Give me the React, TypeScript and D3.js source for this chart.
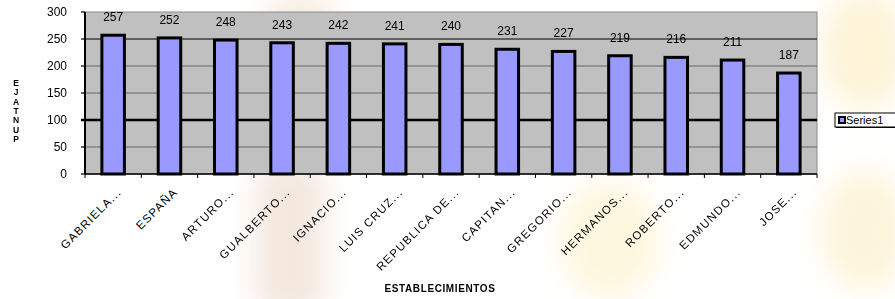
import * as d3 from "d3";
import { useEffect, useRef } from "react";

// nombres cortados como en el original
const categories = [
    "GABRIELA...", "ESPAÑA", "ARTURO...", "GUALBERTO...", "IGNACIO...",
    "LUIS CRUZ...", "REPUBLICA DE...", "CAPITAN...", "GREGORIO...",
    "HERMANOS...", "ROBERTO...", "EDMUNDO...", "JOSE...",
];
const puntajes = [257, 252, 248, 243, 242, 241, 240, 231, 227, 219, 216, 211, 187];
const yTicks = [0, 50, 100, 150, 200, 250, 300];
const seriesName = "Series1";
const xTitle = "ESTABLECIMIENTOS";
const yTitle = "EJATNUP";

const W = 895;
const H = 299;

function drawChart(svgEl: SVGSVGElement) {
    const svg = d3.select(svgEl);
    svg.selectAll("*").remove();

    const area = { left: 85, right: 817, top: 12, bottom: 174 };
    const font = "Arial, 'Liberation Sans', sans-serif";

    // fondo con marca de agua suave
    const defs = svg.append("defs");
    defs.append("filter").attr("id", "blur")
        .append("feGaussianBlur").attr("stdDeviation", 14);
    svg.append("rect").attr("width", W).attr("height", H).attr("fill", "#ffffff");
    const wm = svg.append("g").attr("filter", "url(#blur)");
    wm.append("rect").attr("x", 255).attr("y", 160).attr("width", 70).attr("height", 160)
        .attr("rx", 30).attr("fill", "#f1e2d6").attr("opacity", 0.8);
    wm.append("ellipse").attr("cx", 300).attr("cy", 20).attr("rx", 35).attr("ry", 30)
        .attr("fill", "#f3e2cf").attr("opacity", 0.6);
    wm.append("ellipse").attr("cx", 610).attr("cy", 240).attr("rx", 50).attr("ry", 60)
        .attr("fill", "#fdf3d2").attr("opacity", 0.7);
    wm.append("ellipse").attr("cx", 865).attr("cy", 50).attr("rx", 45).attr("ry", 60)
        .attr("fill", "#fcf0c8").attr("opacity", 0.7);
    wm.append("ellipse").attr("cx", 865).attr("cy", 230).attr("rx", 45).attr("ry", 60)
        .attr("fill", "#fcf1cc").attr("opacity", 0.7);

    const x = d3.scaleBand<string>()
        .domain(categories)
        .range([area.left, area.right])
        .paddingInner(0)
        .paddingOuter(0);

    const y = d3.scaleLinear()
        .domain([0, 300])
        .range([area.bottom, area.top]);

    // area del grafico
    svg.append("rect")
        .attr("x", area.left).attr("y", area.top)
        .attr("width", area.right - area.left).attr("height", area.bottom - area.top)
        .attr("fill", "#c0c0c0")
        .attr("stroke", "#8a8a8a").attr("stroke-width", 1);

    // lineas de division
    yTicks.filter(t => t > 0 && t < 300).forEach(t => {
        const strong = t === 100;
        const dark = t === 250 || t === 100;
        svg.append("line")
            .attr("x1", area.left).attr("x2", area.right)
            .attr("y1", y(t)).attr("y2", y(t))
            .attr("stroke", dark ? "#000" : "#666")
            .attr("stroke-width", strong ? 2.5 : 1);
    });

    // barras
    const barW = x.bandwidth() * 0.4;
    svg.selectAll(".bar")
        .data(puntajes)
        .enter()
        .append("rect")
        .attr("class", "bar")
        .attr("x", (d, i) => x(categories[i])! + (x.bandwidth() - barW) / 2)
        .attr("y", d => y(d))
        .attr("width", barW)
        .attr("height", d => area.bottom - y(d))
        .attr("fill", "#9999ff")
        .attr("stroke", "#000")
        .attr("stroke-width", 3);

    // etiquetas de valor
    svg.selectAll(".val")
        .data(puntajes)
        .enter()
        .append("text")
        .attr("x", (d, i) => x(categories[i])! + x.bandwidth() / 2)
        .attr("y", d => y(d) - 14)
        .attr("text-anchor", "middle")
        .style("font-family", font)
        .style("font-size", "12px")
        .text(d => d);

    // eje Y
    svg.append("line")
        .attr("x1", area.left).attr("x2", area.left)
        .attr("y1", area.top).attr("y2", area.bottom)
        .attr("stroke", "#000").attr("stroke-width", 2);
    yTicks.forEach(t => {
        svg.append("line")
            .attr("x1", area.left - 4).attr("x2", area.left)
            .attr("y1", y(t)).attr("y2", y(t))
            .attr("stroke", "#000").attr("stroke-width", t === 100 ? 2.5 : 1.2);
        svg.append("text")
            .attr("x", area.left - 18).attr("y", y(t) + 4)
            .attr("text-anchor", "end")
            .style("font-family", font)
            .style("font-size", "12px")
            .text(t);
    });

    // eje X
    svg.append("line")
        .attr("x1", area.left).attr("x2", area.right)
        .attr("y1", area.bottom).attr("y2", area.bottom)
        .attr("stroke", "#000").attr("stroke-width", 1.5);
    categories.forEach((c, i) => {
        const bx = x(c)!;
        svg.append("line")
            .attr("x1", bx).attr("x2", bx)
            .attr("y1", area.bottom).attr("y2", area.bottom + 4)
            .attr("stroke", "#000");
        if (i === categories.length - 1) {
            svg.append("line")
                .attr("x1", bx + x.bandwidth()).attr("x2", bx + x.bandwidth())
                .attr("y1", area.bottom).attr("y2", area.bottom + 4)
                .attr("stroke", "#000");
        }
        const cx = bx + x.bandwidth() / 2 + 6;
        const cy = area.bottom + 16;
        svg.append("text")
            .attr("transform", `translate(${cx}, ${cy}) rotate(-45)`)
            .attr("text-anchor", "end")
            .attr("dy", "0.35em")
            .style("font-family", font)
            .style("font-size", "11.5px")
            .style("letter-spacing", "1.2px")
            .text(c);
    });

    // titulos
    svg.append("text")
        .attr("x", 440).attr("y", 292)
        .attr("text-anchor", "middle")
        .style("font-family", font)
        .style("font-size", "10px")
        .style("font-weight", "bold")
        .style("letter-spacing", "0.6px")
        .text(xTitle);

    // letras apiladas del eje Y
    yTitle.split("").forEach((ch, i) => {
        svg.append("text")
            .attr("x", 16)
            .attr("y", 86 + i * 9.3)
            .attr("text-anchor", "middle")
            .style("font-family", font)
            .style("font-size", "8.5px")
            .style("font-weight", "bold")
            .text(ch);
    });

    // leyenda
    const lg = svg.append("g").attr("transform", "translate(835, 113)");
    lg.append("rect").attr("x", 1).attr("y", 1).attr("width", 70).attr("height", 14)
        .attr("fill", "#000");
    lg.append("rect").attr("width", 70).attr("height", 14)
        .attr("fill", "#fff").attr("stroke", "#000");
    lg.append("rect").attr("x", 4).attr("y", 4).attr("width", 6).attr("height", 6)
        .attr("fill", "#9999ff").attr("stroke", "#000").attr("stroke-width", 2);
    lg.append("text").attr("x", 11).attr("y", 11)
        .style("font-family", font)
        .style("font-size", "11px")
        .text(seriesName);
}

export default function App() {
    const svgRef = useRef<SVGSVGElement>(null);

    useEffect(() => {
        if (svgRef.current) drawChart(svgRef.current);
    }, []);

    return (
        <svg
            ref={svgRef}
            width={W}
            height={H}
            style={{ position: "absolute", left: 0, top: 0, display: "block" }}
        ></svg>
    );
}
